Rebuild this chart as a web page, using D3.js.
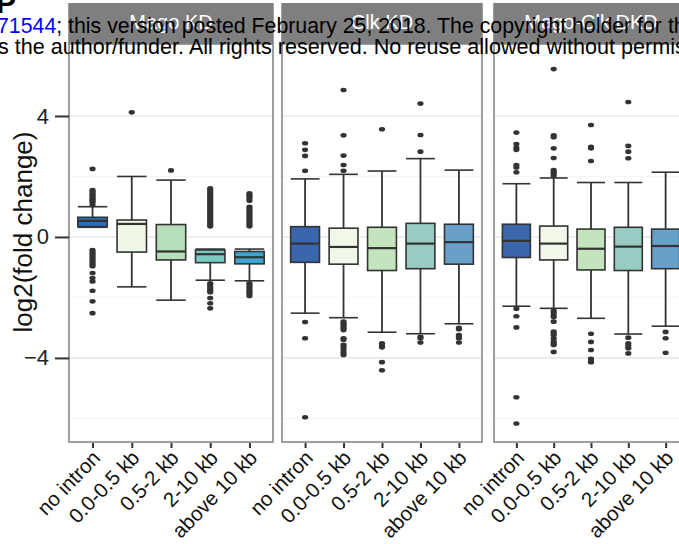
<!DOCTYPE html>
<html>
<head>
<meta charset="utf-8">
<script src="https://cdn.jsdelivr.net/npm/d3@7"></script>
<style>
  body { margin: 0; background: #fff; }
  svg { display: block; font-family: "Liberation Sans", Arial, sans-serif; }
</style>
</head>
<body>
<div id="chart"></div>
<script>
// categories / facets
const categories = ['no intron', '0.0-0.5 kb', '0.5-2 kb', '2-10 kb', 'above 10 kb']
const panels = ['Mago KD', 'Clk KD', 'Mago-Clk DKD']
const yTicks = [-4, 0, 4]
const yMinor = [-6, -2, 2, 6]

// box stats per panel (log2 fold change), one value per category
const q3 = [
  [0.65, 0.56, 0.41, -0.43, -0.48],
  [0.34, 0.29, 0.32, 0.45, 0.42],
  [0.42, 0.36, 0.26, 0.32, 0.26]
]
const median = [
  [0.53, 0.43, -0.48, -0.57, -0.67],
  [-0.22, -0.33, -0.37, -0.22, -0.17],
  [-0.13, -0.22, -0.39, -0.32, -0.30]
]
const q1 = [
  [0.34, -0.50, -0.76, -0.85, -0.89],
  [-0.84, -0.90, -1.11, -1.05, -0.90],
  [-0.68, -0.76, -1.09, -1.11, -1.05]
]
const whiskerHigh = [
  [1.00, 2.00, 1.88, -0.40, -0.40],
  [1.92, 2.07, 2.18, 2.59, 2.21],
  [1.76, 1.95, 1.80, 1.80, 2.14]
]
const whiskerLow = [
  [0.32, -1.65, -2.09, -1.43, -1.45],
  [-2.52, -2.67, -3.15, -3.20, -2.87],
  [-2.29, -2.36, -2.69, -3.21, -2.95]
]
const outliers = [
  [
    [2.25, 1.55, 1.50, 1.45, 1.40, 1.35, 1.30, 1.25, 1.20, 1.15, 1.06, -0.43, -0.49, -0.55, -0.61, -0.67, -0.73, -0.79, -0.85, -0.91, -0.97, -1.19, -1.36, -1.47, -1.78, -2.13, -2.52],
    [4.12],
    [2.2],
    [1.61, 1.55, 1.49, 1.43, 1.37, 1.31, 1.25, 1.19, 1.13, 1.07, 1.01, 0.95, 0.89, 0.83, 0.77, 0.71, 0.65, 0.59, 0.53, 0.47, 0.41, 0.35, -1.53, -1.59, -1.65, -1.71, -1.77, -1.83, -2.02, -2.19, -2.36],
    [1.44, 1.38, 1.32, 1.26, 1.20, 1.00, 0.94, 0.88, 0.82, 0.76, 0.70, 0.64, 0.58, 0.52, 0.46, 0.40, 0.35, -1.53, -1.59, -1.65, -1.71, -1.77, -1.83, -1.89, -1.95]
  ],
  [
    [3.10, 2.88, 2.68, 2.19, -2.81, -3.35, -5.96],
    [4.86, 3.36, 2.69, 2.38, 2.19, -2.80, -2.86, -2.91, -2.97, -3.02, -3.08, -3.35, -3.40, -3.57, -3.65, -3.73, -3.82, -3.90],
    [3.56, -3.52, -3.60, -3.65, -4.14, -4.41],
    [4.41, 3.37, 2.82, -3.30, -3.35, -3.49],
    [-3.00, -3.05, -3.24, -3.30, -3.35, -3.49]
  ],
  [
    [3.45, 3.07, 2.95, 2.88, 2.38, 2.30, 2.14, -2.37, -2.62, -2.99, -5.30, -6.17],
    [5.55, 3.36, 3.30, 2.93, 2.61, 2.21, 2.15, 2.10, 2.02, -2.44, -2.50, -2.58, -2.65, -2.80, -3.13, -3.18, -3.24, -3.35, -3.46, -3.52, -3.57, -3.80],
    [3.70, 2.98, 2.93, 2.51, -3.20, -3.47, -3.74, -4.03, -4.10, -4.14],
    [4.46, 3.01, 2.82, 2.60, -3.33, -3.52, -3.60, -3.68, -3.85],
    [-3.14, -3.35, -3.83]
  ]
]

const fills = [
  ['#2c6daf', '#eff7e6', '#b6deb9', '#7acac3', '#3ca4d0'],
  ['#3a67ab', '#f1f8ea', '#c4e4bd', '#98cbc1', '#67a1c9'],
  ['#3a67ab', '#f1f8ea', '#c4e4bd', '#98cbc1', '#67a1c9']
]

const width = 679, height = 544
const panelX = [[69, 273], [282, 482], [494, 688]]
const panelTop = 44, panelBottom = 442
const dark = '#333333'

const svg = d3.select('#chart').append('svg')
  .attr('width', width)
  .attr('height', height)

const y = d3.scaleLinear().domain([-6.78, 6.38]).range([panelBottom, panelTop])

panels.forEach((name, p) => {
  const [x0, x1] = panelX[p]
  const x = d3.scalePoint().domain(categories).range([x0, x1]).padding(0.6)
  const boxW = x.step() * 0.75
  const g = svg.append('g')

  // grid
  g.selectAll('.minor').data(yMinor).join('line')
    .attr('x1', x0).attr('x2', x1)
    .attr('y1', d => y(d)).attr('y2', d => y(d))
    .attr('stroke', '#f6f6f6').attr('stroke-width', 1.2)
  g.selectAll('.major').data(yTicks).join('line')
    .attr('x1', x0).attr('x2', x1)
    .attr('y1', d => y(d)).attr('y2', d => y(d))
    .attr('stroke', '#e8e8e8').attr('stroke-width', 1.6)

  categories.forEach((c, i) => {
    const cx = x(c)
    // whiskers
    g.append('line')
      .attr('x1', cx).attr('x2', cx)
      .attr('y1', y(whiskerHigh[p][i])).attr('y2', y(whiskerLow[p][i]))
      .attr('stroke', dark).attr('stroke-width', 1.8)
    ;[whiskerHigh[p][i], whiskerLow[p][i]].forEach(v => {
      g.append('line')
        .attr('x1', cx - boxW / 2).attr('x2', cx + boxW / 2)
        .attr('y1', y(v)).attr('y2', y(v))
        .attr('stroke', dark).attr('stroke-width', 1.6)
    })
    // box
    g.append('rect')
      .attr('x', cx - boxW / 2)
      .attr('width', boxW)
      .attr('y', y(q3[p][i]))
      .attr('height', y(q1[p][i]) - y(q3[p][i]))
      .attr('fill', fills[p][i])
      .attr('stroke', dark).attr('stroke-width', 1.6)
    g.append('line')
      .attr('x1', cx - boxW / 2).attr('x2', cx + boxW / 2)
      .attr('y1', y(median[p][i])).attr('y2', y(median[p][i]))
      .attr('stroke', dark).attr('stroke-width', 2.2)
    // outliers
    g.selectAll(null).data(outliers[p][i]).join('ellipse')
      .attr('cx', cx).attr('cy', d => y(d))
      .attr('rx', 3.1).attr('ry', 2.3)
      .attr('fill', dark)
  })

  // panel border
  g.append('rect')
    .attr('x', x0).attr('y', panelTop)
    .attr('width', x1 - x0).attr('height', panelBottom - panelTop)
    .attr('fill', 'none').attr('stroke', '#7f7f7f').attr('stroke-width', 1.5)

  // strip
  g.append('rect')
    .attr('x', x0 - 0.75).attr('y', 3)
    .attr('width', x1 - x0 + 1.5).attr('height', panelTop - 3)
    .attr('fill', '#7f7f7f')
  g.append('text')
    .attr('x', (x0 + x1) / 2).attr('y', 29)
    .attr('text-anchor', 'middle')
    .attr('fill', '#fff').attr('font-size', 20)
    .text(name)

  // x axis
  const xAxis = d3.axisBottom(x).tickSize(5).tickFormat('')
  const ax = g.append('g')
    .attr('transform', `translate(0,${panelBottom + 1})`)
    .call(xAxis)
  ax.select('.domain').remove()
  ax.selectAll('line').attr('stroke', dark).attr('stroke-width', 2)

  g.selectAll('.xlab').data(categories).join('text')
    .attr('transform', d => `translate(${x(d) + 9},${panelBottom + 17}) rotate(-46)`)
    .attr('text-anchor', 'end')
    .attr('font-size', 20.5)
    .attr('fill', '#111')
    .text(d => d)

  if (p === 0) {
    const yAxis = d3.axisLeft(y).tickValues(yTicks).tickSize(14).tickPadding(6)
      .tickFormat(d3.format('d'))
    const ay = g.append('g')
      .attr('transform', `translate(${x0},0)`)
      .call(yAxis)
    ay.select('.domain').remove()
    ay.selectAll('line').attr('stroke', dark).attr('stroke-width', 2)
    ay.selectAll('text').attr('font-size', 22).attr('fill', '#222')
      .attr('font-family', '"Liberation Sans", Arial, sans-serif')
  }
})

// y title
svg.append('text')
  .attr('transform', `translate(32,232) rotate(-90)`)
  .attr('text-anchor', 'middle')
  .attr('font-size', 26)
  .attr('fill', '#111')
  .text('log2(fold change)')

// overlaid preprint notice and panel letter
svg.append('text')
  .attr('x', -4).attr('y', 13)
  .attr('font-size', 30).attr('font-weight', 'bold')
  .text('P')
const note = svg.append('text')
  .attr('x', -3).attr('y', 33)
  .attr('font-size', 21.3)
note.append('tspan').attr('fill', '#0000ff').text('71544')
note.append('tspan').attr('fill', '#000')
  .text('; this version posted February 25, 2018. The copyright holder for this preprint')
svg.append('text')
  .attr('x', -2).attr('y', 54)
  .attr('font-size', 21.6)
  .text('s the author/funder. All rights reserved. No reuse allowed without permission.')
</script>
</body>
</html>
